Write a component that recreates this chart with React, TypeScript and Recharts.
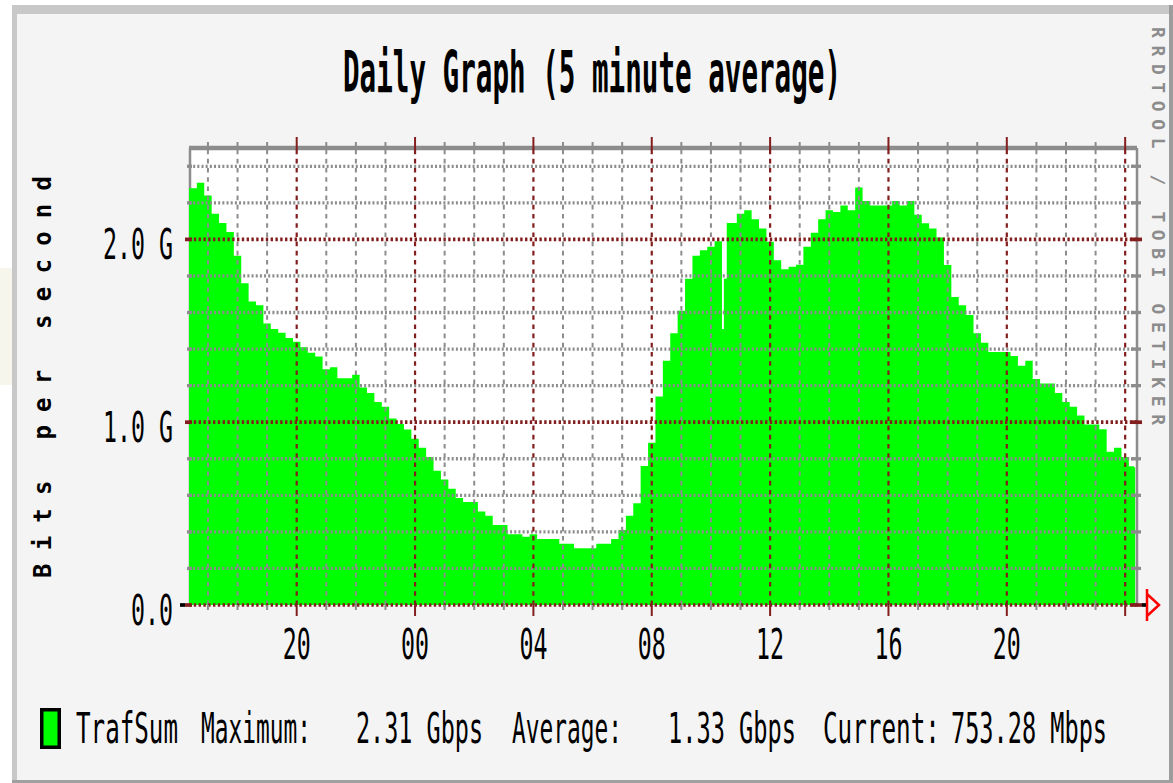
import React from 'react'
import { AreaChart, Area, XAxis, YAxis, CartesianGrid, ReferenceLine } from 'recharts'

// time in hours from midnight of the first day (24 = 00:00 next day)
const sampleHours = [
  16.36, 16.5, 16.75, 17, 17.25, 17.5, 17.75, 18, 18.25, 18.5, 18.75, 19, 19.25, 19.5, 19.75,
  20, 20.25, 20.5, 20.75, 21, 21.25, 21.5, 21.75, 22, 22.25, 22.5, 22.75, 23, 23.25, 23.5, 23.75,
  24, 24.25, 24.5, 24.75, 25, 25.25, 25.5, 25.75, 26, 26.25, 26.5, 26.75, 27, 27.25, 27.5, 27.75,
  28, 28.25, 28.5, 28.75, 29, 29.25, 29.5, 29.75, 30, 30.25, 30.5, 30.75, 31, 31.25, 31.5, 31.75,
  32, 32.25, 32.5, 32.75, 33, 33.25, 33.5, 33.75, 34, 34.25, 34.34, 34.405, 34.47, 34.6, 34.75,
  35, 35.25, 35.5, 35.75, 36, 36.25, 36.5, 36.75, 37, 37.25, 37.5, 37.75, 38, 38.25, 38.5, 38.75,
  39, 39.25, 39.5, 39.75, 40, 40.25, 40.5, 40.75, 41, 41.25, 41.5, 41.75, 42, 42.25, 42.5, 42.75,
  43, 43.25, 43.5, 43.75, 44, 44.25, 44.5, 44.75, 45, 45.25, 45.5, 45.75, 46, 46.25, 46.5, 46.75,
  47, 47.25, 47.5, 47.75, 48, 48.25, 48.34,
]

// TrafSum in Gbit/s
const trafficGbps = [
  2.28, 2.28, 2.31, 2.24, 2.14, 2.09, 2.04, 1.91, 1.76, 1.66, 1.64, 1.54, 1.51, 1.49, 1.46,
  1.44, 1.41, 1.38, 1.36, 1.29, 1.3, 1.24, 1.24, 1.26, 1.19, 1.16, 1.11, 1.085, 1.02, 0.99, 0.96,
  0.91, 0.86, 0.81, 0.735, 0.686, 0.636, 0.585, 0.563, 0.563, 0.511, 0.488, 0.438, 0.438, 0.387, 0.387, 0.374,
  0.387, 0.361, 0.361, 0.361, 0.335, 0.335, 0.31, 0.31, 0.31, 0.335, 0.335, 0.361, 0.41, 0.488, 0.557, 0.76,
  0.887, 1.14, 1.336, 1.487, 1.61, 1.785, 1.91, 1.94, 1.96, 1.99, 1.99, 1.51, 1.785, 2.09, 2.09,
  2.14, 2.16, 2.11, 2.06, 1.987, 1.886, 1.837, 1.85, 1.862, 1.96, 2.037, 2.11, 2.16, 2.15, 2.185, 2.16,
  2.284, 2.21, 2.185, 2.185, 2.185, 2.21, 2.185, 2.21, 2.135, 2.088, 2.06, 2.01, 1.86, 1.685, 1.64, 1.586,
  1.487, 1.435, 1.384, 1.384, 1.384, 1.362, 1.309, 1.336, 1.237, 1.212, 1.212, 1.16, 1.11, 1.085, 1.036, 0.988,
  0.988, 0.962, 0.838, 0.86, 0.81, 0.759, 0.753,
]

const hourTicks = [
  17, 18, 19, 20, 21, 22, 23, 24, 25, 26, 27, 28, 29, 30, 31, 32,
  33, 34, 35, 36, 37, 38, 39, 40, 41, 42, 43, 44, 45, 46, 47, 48,
]
const rateTicks = [0, 0.2, 0.4, 0.6, 0.8, 1, 1.2, 1.4, 1.6, 1.8, 2, 2.2, 2.4]
const rateLabels: Record<number, string> = { 0: '0.0', 1: '1.0 G', 2: '2.0 G' }

const title = 'Daily Graph (5 minute average)'
const yTitle = 'Bits per second'
const sideNote = 'RRDTOOL / TOBI OETIKER'
const legendTexts = ['TrafSum', 'Maximum:', '2.31 Gbps', 'Average:', '1.33 Gbps', 'Current:', '753.28 Mbps']

const data = sampleHours.map((hour, i) => ({ hour, traffic: trafficGbps[i] }))

const X_DOMAIN: [number, number] = [16.36, 48.4]
const Y_DOMAIN: [number, number] = [0, 2.5]
const FONT = '"DejaVu Sans Mono", monospace'
const GRAY = '#8c8c8c'
const RED = '#831e1e'
const GREEN = '#00ff00'

const isMajorHour = (h: number) => h % 4 === 0
const isMajorRate = (v: number) => rateLabels[v] !== undefined
const hourLabel = (h: number) => String(h % 24).padStart(2, '0')

// tall narrow text like the stretched rrdtool bitmap font
function TallText(props: {
  x: number; y: number; children: string; size?: number; stretch?: number; len?: number
  anchor?: 'start' | 'middle' | 'end'; bold?: boolean; fill?: string
}) {
  const { x, y, children, size = 23, stretch = 1.85, len, anchor = 'start', bold = false, fill = '#000' } = props
  return (
    <text transform={`translate(${x},${y}) scale(1,${stretch})`} textAnchor={anchor} fontFamily={FONT}
      fontWeight={bold ? 'bold' : 'normal'} fontSize={size} fill={fill}
      textLength={len} lengthAdjust={len ? 'spacingAndGlyphs' : undefined}>
      {children}
    </text>
  )
}

function BottomTick(props: any) {
  const { x, y, payload } = props
  const h = payload.value
  const major = isMajorHour(h)
  return (
    <g>
      <line x1={x} x2={x} y1={y} y2={y + (major ? 11 : 5)} stroke={major ? RED : GRAY} strokeWidth={2} />
      {major && h < 48 && <TallText x={x} y={y + 54} anchor="middle" len={28}>{hourLabel(h)}</TallText>}
    </g>
  )
}

function TopTick(props: any) {
  const { x, y, payload } = props
  const major = isMajorHour(payload.value)
  return <line x1={x} x2={x} y1={y + 2} y2={y - (major ? 11 : 6)} stroke={major ? RED : GRAY} strokeWidth={2} />
}

function LeftTick(props: any) {
  const { x, y, payload } = props
  const v = payload.value
  const major = isMajorRate(v)
  const label = rateLabels[v]
  return (
    <g>
      {v === 0 && <line x1={x - 9} x2={x - 4} y1={y} y2={y} stroke="#000" strokeWidth={3.7} />}
      <line x1={x - (major ? 4 : 2)} x2={x + 3} y1={y} y2={y} stroke={major ? RED : GRAY} strokeWidth={major ? 3.7 : 3.3} />
      {label && <TallText x={x - 16} y={y + 20} anchor="end" len={label.length * 14}>{label}</TallText>}
    </g>
  )
}

function RightTick(props: any) {
  const { x, y, payload } = props
  const v = payload.value
  const major = isMajorRate(v)
  return (
    <g>
      <line x1={x - 6} x2={x + (major ? 5 : 4)} y1={y} y2={y} stroke={major ? RED : GRAY} strokeWidth={major ? 3.7 : 3.3} />
      {v === 0 && <line x1={x + 5} x2={x + 9} y1={y} y2={y} stroke="#000" strokeWidth={3.7} />}
    </g>
  )
}

const legendX = [76, 201, 356, 512, 668, 823, 951]
const legendW = [102, 110, 127, 110, 128, 117, 156]

export default function App() {
  return (
    <div style={{ position: 'absolute', left: 0, top: 0, width: 1173, height: 783 }}>
      <svg width={1173} height={783} style={{ position: 'absolute', left: 0, top: 0 }}>
        <rect width={1173} height={783} fill="#ffffff" />
        <rect x={0} y={268} width={12} height={117} fill="#f6f6ec" />
        <rect x={12} y={5} width={1161} height={778} fill="#f4f4f4" />
        <rect x={12} y={5} width={1157} height={9} fill="#c8c8c8" />
        <rect x={12} y={5} width={5} height={778} fill="#c8c8c8" />
        <rect x={1169} y={5} width={4} height={778} fill="#9c9c9c" />
        <rect x={12} y={780} width={1161} height={3} fill="#a0a0a0" />

        <TallText x={592} y={92} size={27.5} stretch={2.1} anchor="middle" bold len={498}>{title}</TallText>

        <text transform="translate(51,377) rotate(-90)" textAnchor="middle" fontFamily={FONT} fontWeight="bold"
          fontSize={24} textLength={402} lengthAdjust="spacing" fill="#000">
          {yTitle}
        </text>

        <text transform="translate(1152,226) rotate(90)" textAnchor="middle" fontFamily={FONT} fontWeight="bold"
          fontSize={18} textLength={398} lengthAdjust="spacing" fill="#8c8c8c">
          {sideNote}
        </text>

        <rect x={41.75} y={709.75} width={17.5} height={37.5} fill={GREEN} stroke="#000" strokeWidth={3.5} />
        {legendTexts.map((t, i) => (
          <TallText key={t + i} x={legendX[i]} y={743} len={legendW[i]}>{t}</TallText>
        ))}

        <path d="M1147,589 V621 M1147,594 L1159,605 L1147,616" fill="none" stroke="#ff0000" strokeWidth={2.5} />
      </svg>

      <div style={{ position: 'absolute', left: 0, top: 0 }}>
        <AreaChart width={1173} height={783} data={data} margin={{ top: 128, right: 16, bottom: 118, left: 129 }}>
          <CartesianGrid fill="#ffffff" horizontal={false} stroke={GRAY} strokeWidth={2.5}
            verticalCoordinatesGenerator={({ offset }: any) => [offset.left + 1]} />
          <XAxis dataKey="hour" type="number" domain={X_DOMAIN} allowDataOverflow ticks={hourTicks} interval={0}
            tickSize={0} tickMargin={0} axisLine={false} tickLine={false} height={60}
            tick={(p: any) => <BottomTick {...p} />} />
          <XAxis xAxisId="top" orientation="top" dataKey="hour" type="number" domain={X_DOMAIN} allowDataOverflow
            ticks={hourTicks} interval={0} tickSize={0} tickMargin={0} axisLine={false} tickLine={false} height={20}
            tick={(p: any) => <TopTick {...p} />} />
          <YAxis type="number" domain={Y_DOMAIN} allowDataOverflow ticks={rateTicks} interval={0} width={60}
            tickSize={0} tickMargin={0} axisLine={false} tickLine={false}
            tick={(p: any) => <LeftTick {...p} />} />
          <YAxis yAxisId="right" orientation="right" type="number" domain={Y_DOMAIN} allowDataOverflow
            ticks={rateTicks} interval={0} width={20} tickSize={0} tickMargin={0} axisLine={false} tickLine={false}
            tick={(p: any) => <RightTick {...p} />} />

          <Area type="step" dataKey="traffic" fill={GREEN} fillOpacity={1} stroke="none" isAnimationActive={false} />

          {hourTicks.filter((h) => !isMajorHour(h)).map((h) => (
            <ReferenceLine key={'mh' + h} x={h} stroke={GRAY} strokeWidth={2} strokeDasharray="4.6 4.6" />
          ))}
          {rateTicks.filter((v) => !isMajorRate(v)).map((v) => (
            <ReferenceLine key={'mr' + v} y={v} stroke={GRAY} strokeWidth={3.3} strokeDasharray="2 2.17" />
          ))}
          <ReferenceLine y={2.5} stroke={GRAY} strokeWidth={4.5} />
          <ReferenceLine x={48.4} stroke={GRAY} strokeWidth={2.5} />
          {hourTicks.filter(isMajorHour).map((h) => (
            <ReferenceLine key={'Mh' + h} x={h} stroke={RED} strokeWidth={2.2} strokeDasharray="4.6 4.6" />
          ))}
          {rateTicks.filter(isMajorRate).map((v) => (
            <ReferenceLine key={'Mr' + v} y={v} stroke={RED} strokeWidth={3.7} strokeDasharray="2.4 2.4" />
          ))}
        </AreaChart>
      </div>
    </div>
  )
}
